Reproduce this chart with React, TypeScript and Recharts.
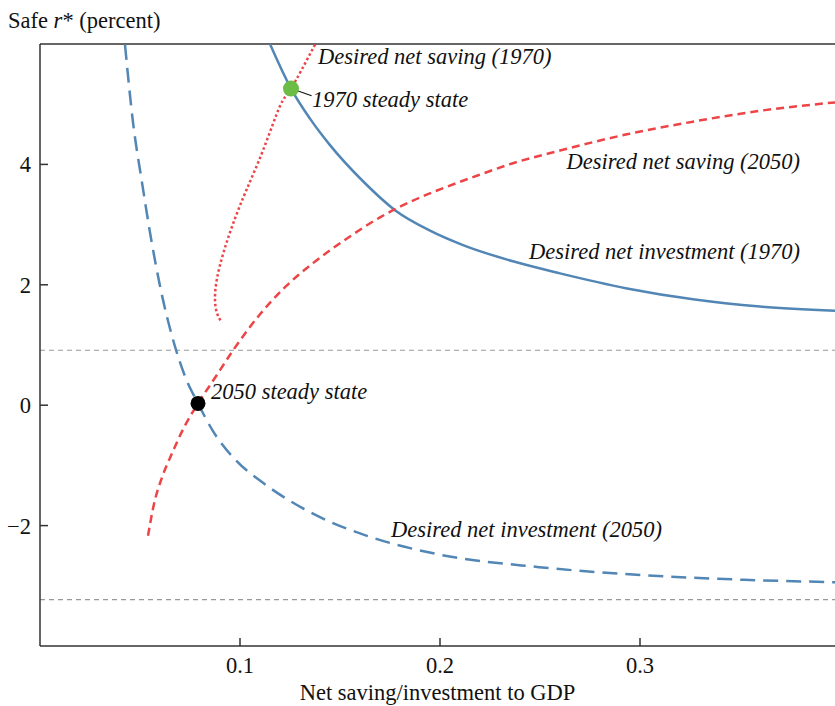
import React from 'react';
import {
  LineChart,
  Line,
  XAxis,
  YAxis,
  ReferenceLine,
  ReferenceDot,
  Label,
} from 'recharts';

// [net saving/investment to GDP, safe r* (percent)]
const investment1970: [number, number][] = [
  [0.115, 6.0], [0.1255, 5.26], [0.135, 4.76], [0.145, 4.32], [0.1615, 3.72],
  [0.1775, 3.24], [0.195, 2.9], [0.2115, 2.66], [0.2365, 2.39], [0.26, 2.19],
  [0.2935, 1.94], [0.3265, 1.76], [0.36, 1.64], [0.3975, 1.57],
];

const investment2050: [number, number][] = [
  [0.0425, 5.99], [0.0465, 4.7], [0.051, 3.7], [0.055, 2.87], [0.06, 1.98],
  [0.066, 1.15], [0.0725, 0.48], [0.079, 0.03], [0.0865, -0.43], [0.0975, -0.9],
  [0.1115, -1.29], [0.125, -1.59], [0.14, -1.86], [0.1635, -2.17], [0.198, -2.47],
  [0.2495, -2.69], [0.3005, -2.82], [0.352, -2.9], [0.3975, -2.94],
];

const saving2050: [number, number][] = [
  [0.054, -2.17], [0.057, -1.64], [0.061, -1.2], [0.066, -0.8], [0.072, -0.37],
  [0.079, 0.03], [0.087, 0.43], [0.0965, 0.91], [0.11, 1.51], [0.1225, 1.96],
  [0.1365, 2.36], [0.1535, 2.77], [0.17, 3.12], [0.1865, 3.4], [0.2035, 3.63],
  [0.22, 3.83], [0.2365, 4.02], [0.26, 4.23], [0.2935, 4.5], [0.3265, 4.71],
  [0.36, 4.89], [0.3975, 5.03],
];

// backward-bending, kept in path order
const saving1970: [number, number][] = [
  [0.1375, 5.99], [0.1255, 5.26], [0.12, 4.97], [0.1117, 4.25], [0.1034, 3.59],
  [0.0967, 3.03], [0.0917, 2.53], [0.0884, 2.09], [0.0875, 1.76], [0.0884, 1.54],
  [0.0904, 1.4],
];

const steady1970: [number, number] = [0.1255, 5.26];
const steady2050: [number, number] = [0.079, 0.03];
const leader1970: [number, number] = [0.1358, 5.14];

const refLevels = [0.913, -3.23];
const xTicks = [0.1, 0.2, 0.3];
const yTicks = [-2, 0, 2, 4];

const annotations: { text: string; x: number; y: number; anchor: 'start' | 'end' }[] = [
  { text: 'Desired net saving (1970)', x: 0.139, y: 5.676, anchor: 'start' },
  { text: '1970 steady state', x: 0.136, y: 4.96, anchor: 'start' },
  { text: 'Desired net saving (2050)', x: 0.38, y: 3.917, anchor: 'end' },
  { text: 'Desired net investment (1970)', x: 0.38, y: 2.423, anchor: 'end' },
  { text: '2050 steady state', x: 0.0855, y: 0.1, anchor: 'start' },
  { text: 'Desired net investment (2050)', x: 0.1755, y: -2.19, anchor: 'start' },
];

const toRows = (pts: [number, number][]) => pts.map(([x, y]) => ({ x, y }));

const FONT = '"Liberation Serif", "Times New Roman", serif';
const FS = 22.5;
const BLUE = '#5286b5';
const RED = '#ec4447';
const AXIS = '#333';

const fmtY = (v: number) => (v < 0 ? `\u2212${Math.abs(v)}` : String(v));

const App: React.FC = () => {
  return (
    <div style={{ position: 'absolute', left: 0, top: 0, background: '#fff' }}>
      <LineChart width={835} height={706} margin={{ top: 44, right: 0, bottom: 0, left: 0 }}>
        <XAxis
          type="number"
          dataKey="x"
          domain={[0, 0.3975]}
          allowDataOverflow
          ticks={xTicks}
          tickFormatter={(v: number) => v.toFixed(1)}
          height={60}
          tickSize={-8}
          tickMargin={19}
          stroke={AXIS}
          strokeWidth={1.5}
          tick={{ fontSize: FS, fill: '#111', fontFamily: FONT }}
        >
          <Label
            content={({ viewBox }: any) => (
              <text
                x={viewBox.x + viewBox.width / 2}
                y={viewBox.y + 54}
                textAnchor="middle"
                fontSize={FS}
                fontFamily={FONT}
                fill="#111"
              >
                Net saving/investment to GDP
              </text>
            )}
          />
        </XAxis>
        <YAxis
          type="number"
          domain={[-4, 6]}
          allowDataOverflow
          ticks={yTicks}
          tickFormatter={fmtY}
          width={40}
          tickSize={-8}
          tickMargin={17}
          stroke={AXIS}
          strokeWidth={1.5}
          tick={{ fontSize: FS, fill: '#111', fontFamily: FONT }}
        >
          <Label
            content={({ viewBox }: any) => (
              <text x={viewBox.x + 8} y={viewBox.y - 16} fontSize={FS} fontFamily={FONT} fill="#111">
                Safe <tspan fontStyle="italic">r</tspan>* (percent)
              </text>
            )}
          />
        </YAxis>

        <ReferenceLine y={6} stroke={AXIS} strokeWidth={1.5} />
        {refLevels.map((lv) => (
          <ReferenceLine key={lv} y={lv} stroke="#999" strokeWidth={1.2} strokeDasharray="5 4" />
        ))}

        <Line
          data={toRows(investment1970)}
          dataKey="y"
          type="monotoneX"
          stroke={BLUE}
          strokeWidth={2.5}
          dot={false}
          activeDot={false}
          isAnimationActive={false}
        />
        <Line
          data={toRows(investment2050)}
          dataKey="y"
          type="monotoneX"
          stroke={BLUE}
          strokeWidth={2.5}
          strokeDasharray="15 8"
          dot={false}
          activeDot={false}
          isAnimationActive={false}
        />
        <Line
          data={toRows(saving2050)}
          dataKey="y"
          type="monotoneX"
          stroke={RED}
          strokeWidth={2.5}
          strokeDasharray="8 5"
          dot={false}
          activeDot={false}
          isAnimationActive={false}
        />
        <Line
          data={toRows(saving1970)}
          dataKey="y"
          type="natural"
          stroke={RED}
          strokeWidth={2.5}
          strokeDasharray="2.5 2.5"
          dot={false}
          activeDot={false}
          isAnimationActive={false}
        />

        <ReferenceLine
          segment={[
            { x: steady1970[0], y: steady1970[1] },
            { x: leader1970[0], y: leader1970[1] },
          ]}
          stroke="#111"
          strokeWidth={1.2}
        />
        <ReferenceDot x={steady1970[0]} y={steady1970[1]} r={8} fill="#6bbd45" stroke="none" />
        <ReferenceDot x={steady2050[0]} y={steady2050[1]} r={7.5} fill="#000" stroke="none" />

        {annotations.map((a) => (
          <ReferenceDot
            key={a.text}
            x={a.x}
            y={a.y}
            r={0}
            fill="none"
            stroke="none"
            label={{
              content: ({ viewBox }: any) => (
                <text
                  x={viewBox.x}
                  y={viewBox.y}
                  textAnchor={a.anchor}
                  fontSize={FS}
                  fontStyle="italic"
                  fontFamily={FONT}
                  fill="#111"
                >
                  {a.text}
                </text>
              ),
            }}
          />
        ))}
      </LineChart>
    </div>
  );
};

export default App;
